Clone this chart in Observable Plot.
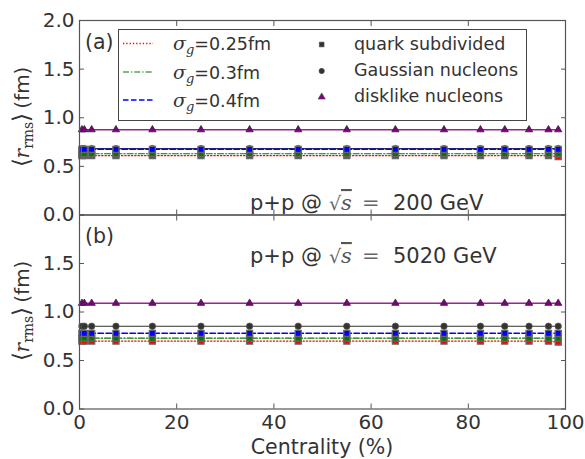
<!DOCTYPE html>
<html>
<head>
<meta charset="utf-8">
<script src="https://cdn.jsdelivr.net/npm/d3@7"></script>
<script src="https://cdn.jsdelivr.net/npm/@observablehq/plot@0.6"></script>
<style>
  body { margin: 0; background: white; }
  #wrap { position: relative; width: 585px; height: 459px; background: white; overflow: hidden; }
  #wrap > div, #wrap > svg { position: absolute; left: 0; top: 0; }
</style>
</head>
<body>
<div id="wrap">
  <div id="pa"></div>
  <div id="pb"></div>
</div>
<script>
// ---------------- data ----------------
const centrality = [0.5, 1, 2.5, 7.5, 15, 25, 35, 45, 55, 65, 75, 82.5, 87.5, 92.5, 96.5, 98.5];

// panel (a): p+p @ 200 GeV
const rms200_quark025 = [0.61, 0.61, 0.61, 0.61, 0.61, 0.61, 0.61, 0.61, 0.61, 0.61, 0.61, 0.61, 0.61, 0.61, 0.61, 0.60];
const rms200_quark030 = [0.63, 0.63, 0.63, 0.63, 0.63, 0.63, 0.63, 0.63, 0.63, 0.63, 0.63, 0.63, 0.63, 0.63, 0.63, 0.63];
const rms200_quark040 = [0.675, 0.675, 0.675, 0.675, 0.675, 0.675, 0.675, 0.675, 0.675, 0.675, 0.675, 0.675, 0.675, 0.675, 0.675, 0.675];
const rms200_gauss    = [0.683, 0.683, 0.683, 0.683, 0.683, 0.683, 0.683, 0.683, 0.683, 0.683, 0.683, 0.683, 0.683, 0.683, 0.683, 0.683];
const rms200_disk     = [0.877, 0.877, 0.877, 0.877, 0.877, 0.877, 0.877, 0.877, 0.877, 0.877, 0.877, 0.877, 0.877, 0.877, 0.877, 0.877];

// panel (b): p+p @ 5020 GeV
const rms5020_quark025 = [0.70, 0.70, 0.70, 0.70, 0.70, 0.70, 0.70, 0.70, 0.70, 0.70, 0.70, 0.70, 0.70, 0.70, 0.70, 0.69];
const rms5020_quark030 = [0.73, 0.73, 0.73, 0.73, 0.73, 0.73, 0.73, 0.73, 0.73, 0.73, 0.73, 0.73, 0.73, 0.73, 0.73, 0.73];
const rms5020_quark040 = [0.78, 0.78, 0.78, 0.78, 0.78, 0.78, 0.78, 0.78, 0.78, 0.78, 0.78, 0.78, 0.78, 0.78, 0.78, 0.78];
const rms5020_gauss    = [0.853, 0.853, 0.853, 0.853, 0.853, 0.853, 0.853, 0.853, 0.853, 0.853, 0.853, 0.853, 0.853, 0.853, 0.853, 0.853];
const rms5020_disk     = [1.09, 1.09, 1.09, 1.09, 1.09, 1.09, 1.09, 1.09, 1.09, 1.09, 1.09, 1.09, 1.09, 1.09, 1.09, 1.09];

const xTicks = [0, 20, 40, 60, 80, 100];
const yTickMarks = [0, 0.5, 1, 1.5, 2];
const yTicksA = [0, 0.5, 1, 1.5, 2];
const yTicksB = [0, 0.5, 1, 1.5];
const sigmaLabels = ["0.25", "0.3", "0.4"];
const modelLabels = ["quark subdivided", "Gaussian nucleons", "disklike nucleons"];
const panelLabels = ["(a)", "(b)"];
const energies = ["200", "5020"];
const xLabel = "Centrality (%)";

// ---------------- style ----------------
const RED = "#ff0000", GREEN = "#007a00", BLUE = "#0000ff", PURPLE = "#800080", DARK = "#333333", SPINE = "#555555";
const FONT = "DejaVu Sans";
const DOT = "1.3,2", DASHDOT = "6,2,1.3,2", DASH = "5.5,2.5";

const rows = vals => centrality.map((c, i) => ({c, v: vals[i]}));

function panel(s, {yTicks, showX, marginTop, marginBottom}) {
  const marks = [
    // disklike
    Plot.line(rows(s.disk), {x: "c", y: "v", stroke: PURPLE, strokeWidth: 1.6, strokeOpacity: 0.85}),
    Plot.dot(rows(s.disk), {x: "c", y: "v", symbol: "triangle", r: 2.7, fill: PURPLE, stroke: "#3a1a3a", strokeWidth: 0.8}),
    // gaussian
    Plot.line(rows(s.gauss), {x: "c", y: "v", stroke: DARK, strokeWidth: 1.1}),
    Plot.dot(rows(s.gauss), {x: "c", y: "v", symbol: "circle", r: 3.2, fill: DARK, stroke: "#555", strokeWidth: 0.8}),
    // quark subdivided
    Plot.line(rows(s.q025), {x: "c", y: "v", stroke: RED, strokeWidth: 1.3, strokeDasharray: DOT}),
    Plot.dot(rows(s.q025), {x: "c", y: "v", symbol: "square", r: 3.4, fill: RED, stroke: "#666", strokeWidth: 1.3}),
    Plot.line(rows(s.q030), {x: "c", y: "v", stroke: GREEN, strokeWidth: 1.2, strokeDasharray: DASHDOT}),
    Plot.dot(rows(s.q030), {x: "c", y: "v", symbol: "square", r: 3.4, fill: GREEN, stroke: "#666", strokeWidth: 1.3}),
    Plot.line(rows(s.q040), {x: "c", y: "v", stroke: BLUE, strokeWidth: 1.5, strokeDasharray: DASH}),
    Plot.dot(rows(s.q040), {x: "c", y: "v", symbol: "square", r: 3.4, fill: BLUE, stroke: "#666", strokeWidth: 1.3}),
    // frame & inward ticks
    Plot.frame({stroke: SPINE, strokeWidth: 1.2}),
    Plot.axisX({ticks: xTicks, anchor: "bottom", tickSize: 5, dy: -5, tickFormat: () => "", label: null, stroke: SPINE}),
    Plot.axisX({ticks: xTicks, anchor: "top", tickSize: 5, dy: 5, tickFormat: () => "", label: null, stroke: SPINE}),
    Plot.axisY({ticks: yTickMarks, anchor: "left", tickSize: 5, dx: 5, tickFormat: () => "", label: null, stroke: SPINE}),
    Plot.axisY({ticks: yTickMarks, anchor: "right", tickSize: 5, dx: -5, tickFormat: () => "", label: null, stroke: SPINE}),
    // tick labels
    Plot.axisY({ticks: yTicks, anchor: "left", tickSize: 0, tickPadding: 5, tickFormat: d3.format(".1f"), label: null, fontSize: 20, fill: DARK})
  ];
  if (showX) {
    marks.push(Plot.axisX({ticks: xTicks, anchor: "bottom", tickSize: 0, tickPadding: 6, tickFormat: d3.format("d"), label: null, fontSize: 20, fill: DARK}));
  }
  return Plot.plot({
    width: 585, height: 459,
    marginLeft: 79, marginRight: 20, marginTop, marginBottom,
    x: {domain: [0, 100], axis: null},
    y: {domain: [0, 2], axis: null},
    style: {background: "transparent", color: DARK, fontFamily: FONT, overflow: "visible"},
    marks
  });
}

const A = {q025: rms200_quark025, q030: rms200_quark030, q040: rms200_quark040, gauss: rms200_gauss, disk: rms200_disk};
const B = {q025: rms5020_quark025, q030: rms5020_quark030, q040: rms5020_quark040, gauss: rms5020_gauss, disk: rms5020_disk};

document.getElementById("pa").append(panel(A, {yTicks: yTicksA, showX: false, marginTop: 20, marginBottom: 244.5}));
document.getElementById("pb").append(panel(B, {yTicks: yTicksB, showX: true, marginTop: 214.5, marginBottom: 50.5}));

// ---------------- overlay: labels, annotations, legend ----------------
const svg = d3.select("#wrap").append("svg")
  .attr("width", 585).attr("height", 459)
  .style("font-family", FONT).attr("fill", DARK);

// x label
svg.append("text").attr("x", 322).attr("y", 454).attr("text-anchor", "middle")
  .attr("font-size", 20.5).text(xLabel);

// y labels
function yLabel(cy) {
  const t = svg.append("text").attr("transform", `translate(29,${cy}) rotate(-90)`)
    .attr("text-anchor", "middle").attr("font-size", 20);
  t.append("tspan").attr("font-family", "DejaVu Sans").attr("font-size", 23).attr("font-weight", 200).text("\u27E8");
  t.append("tspan").attr("font-family", "DejaVu Serif").attr("font-style", "italic").text("r");
  t.append("tspan").attr("font-family", "DejaVu Serif").attr("font-size", 14).attr("dy", 4).text("rms");
  t.append("tspan").attr("font-family", "DejaVu Sans").attr("font-size", 23).attr("font-weight", 200).attr("dy", -4).text("\u27E9");
  t.append("tspan").text("\u2009(fm)");
}
yLabel(117);
yLabel(311);

// panel letters
svg.append("text").attr("x", 85).attr("y", 49).attr("font-size", 20.5).text(panelLabels[0]);
svg.append("text").attr("x", 85).attr("y", 243).attr("font-size", 20.5).text(panelLabels[1]);

// energy annotations
function energy(y, e) {
  const t = svg.append("text").attr("y", y).attr("font-size", 21);
  t.append("tspan").attr("x", 250).text("p+p @");
  t.append("tspan").attr("x", 329).attr("font-family", "DejaVu Serif").attr("font-size", 19).attr("fill", "#666").text("\u221A");
  t.append("tspan").attr("x", 341).attr("font-family", "DejaVu Serif").attr("font-style", "italic").attr("fill", "#555")
    .attr("text-decoration", "overline").text("s");
  t.append("tspan").attr("x", 362).attr("font-family", "DejaVu Serif").attr("fill", "#666").text("=");
  t.append("tspan").attr("x", 393).text(e + " GeV");
}
energy(210, energies[0]);
energy(263, energies[1]);

// legend
const lg = svg.append("g");
lg.append("rect").attr("x", 118.5).attr("y", 29.5).attr("width", 408).attr("height", 91)
  .attr("fill", "white").attr("stroke", "#444").attr("stroke-width", 1);

const legLines = [
  {color: RED, dash: DOT, w: 1.3, y: 43.5, base: 50},
  {color: GREEN, dash: DASHDOT, w: 1.2, y: 72, base: 79},
  {color: BLUE, dash: DASH, w: 1.5, y: 100, base: 107}
];
legLines.forEach((d, i) => {
  lg.append("line").attr("x1", 123).attr("x2", 153).attr("y1", d.y).attr("y2", d.y)
    .attr("stroke", d.color).attr("stroke-width", d.w).attr("stroke-dasharray", d.dash);
  const t = lg.append("text").attr("x", 173).attr("y", d.base).attr("font-size", 17.5);
  t.append("tspan").attr("font-family", "DejaVu Serif").attr("font-style", "italic").attr("font-size", 19).text("\u03C3");
  t.append("tspan").attr("font-family", "DejaVu Serif").attr("font-style", "italic").attr("font-size", 13).attr("dy", 4).text("g");
  t.append("tspan").attr("dy", -4).text("=" + sigmaLabels[i] + "fm");
});

const legMarks = [
  {type: d3.symbolSquare, size: 22, fill: DARK, y: 44.5, base: 50},
  {type: d3.symbolCircle, size: 22, fill: DARK, y: 71, base: 76},
  {type: d3.symbolTriangle, size: 22, fill: PURPLE, y: 97, base: 102}
];
legMarks.forEach((d, i) => {
  lg.append("path").attr("d", d3.symbol(d.type, d.size)()).attr("transform", `translate(321.7,${d.y})`)
    .attr("fill", d.fill).attr("stroke", "#444").attr("stroke-width", 0.6);
  lg.append("text").attr("x", 354).attr("y", d.base).attr("font-size", 17.5).text(modelLabels[i]);
});
</script>
</body>
</html>
